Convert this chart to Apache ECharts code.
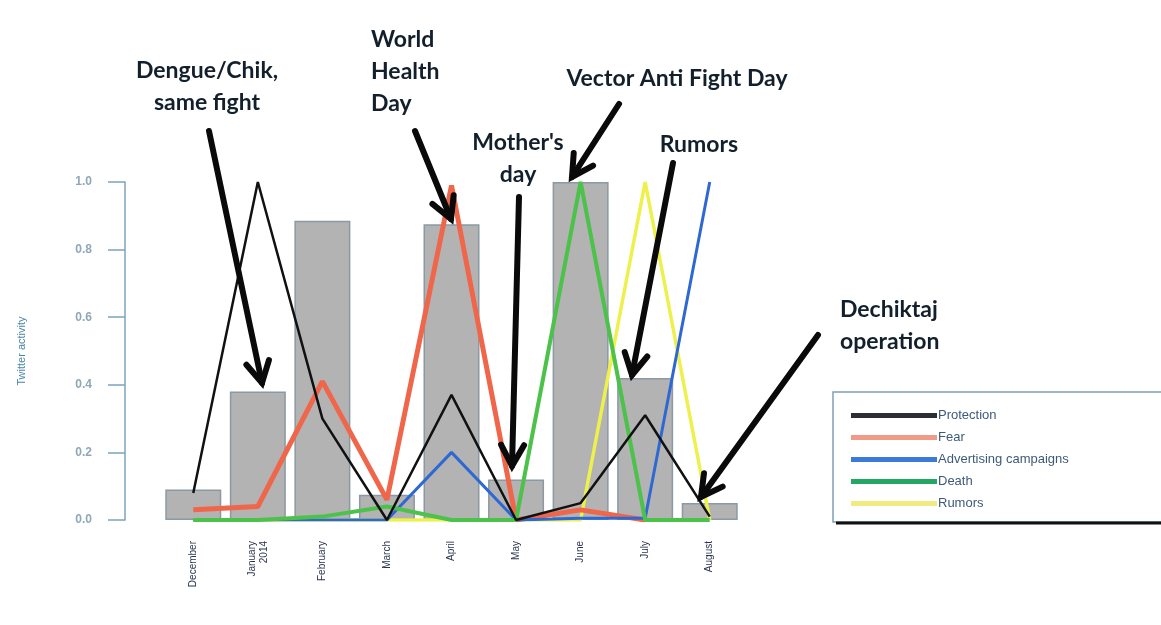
<!DOCTYPE html>
<html>
<head>
<meta charset="utf-8">
<script src="https://cdn.jsdelivr.net/npm/echarts@6/dist/echarts.min.js"></script>
<style>
html,body{margin:0;padding:0;background:#fff;}
#c{width:1161px;height:625px;}
</style>
</head>
<body>
<div id="c"></div>
<script>
const categories = ['December', 'January\n2014', 'February', 'March', 'April', 'May', 'June', 'July', 'August'];
const barValues = [0.09, 0.38, 0.885, 0.075, 0.875, 0.12, 1.0, 0.42, 0.05];
const protection = [0.08, 1.0, 0.30, 0.0, 0.37, 0.0, 0.05, 0.31, 0.01];
const fear = [0.03, 0.04, 0.41, 0.06, 0.99, 0.0, 0.03, 0.0, null];
const advertising = [0.0, 0.0, 0.0, 0.0, 0.20, 0.0, 0.005, 0.005, 1.0];
const death = [0.0, 0.0, 0.01, 0.04, 0.0, 0.0, 1.0, 0.0, 0.0];
const rumors = [0.0, 0.0, 0.0, 0.0, 0.0, 0.0, 0.0, 1.0, 0.0];
const yTicks = [0, 0.2, 0.4, 0.6, 0.8, 1.0];

const chart = echarts.init(document.getElementById('c'));

function arrow(x1, y1, x2, y2) {
  const ang = Math.atan2(y2 - y1, x2 - x1);
  const L = 24, a = 0.5;
  const p1 = [x2 - L * Math.cos(ang - a), y2 - L * Math.sin(ang - a)];
  const p2 = [x2 - L * Math.cos(ang + a), y2 - L * Math.sin(ang + a)];
  return [
    {type: 'line', z: 20, shape: {x1: x1, y1: y1, x2: x2, y2: y2}, style: {stroke: '#0a0a0a', lineWidth: 6, lineCap: 'round'}},
    {type: 'polyline', z: 20, shape: {points: [p1, [x2, y2], p2]}, style: {stroke: '#0a0a0a', lineWidth: 6, fill: null, lineJoin: 'miter', lineCap: 'round'}}
  ];
}
function label(text, x, y, align) {
  return {type: 'text', z: 20, x: x, y: y, style: {text: text, fill: '#13202c', font: 'bold 23px Lato', align: align || 'center', verticalAlign: 'middle', lineHeight: 32}};
}

const graphics = [].concat(
  [
    {type: 'rect', z: 1, shape: {x: 833, y: 392, width: 340, height: 130}, style: {fill: '#fff', stroke: '#7f9fb4', lineWidth: 1.5}},
    {type: 'line', z: 2, shape: {x1: 836, y1: 523, x2: 1161, y2: 523}, style: {stroke: '#111', lineWidth: 3}}
  ],
  arrow(209, 131, 262, 383),
  arrow(415, 131, 451, 219),
  arrow(519, 197, 512, 466),
  arrow(619, 104, 572, 177),
  arrow(673, 163, 632, 375),
  arrow(818, 335, 701, 497),
  [
    label('Dengue/Chik,\nsame fight', 207, 87),
    label('World\nHealth\nDay', 371, 72, 'left'),
    label("Mother's\nday", 518, 159),
    label('Vector Anti Fight Day', 677, 79),
    label('Rumors', 699, 145),
    label('Dechiktaj\noperation', 840, 326, 'left')
  ]
);

const lineSeries = [
  {name: 'Protection', data: protection, color: '#111111', width: 2.5, z: 7},
  {name: 'Fear', data: fear, color: '#f0664a', width: 5, z: 4},
  {name: 'Advertising campaigns', data: advertising, color: '#2e68d2', width: 3, z: 5},
  {name: 'Death', data: death, color: '#4cc24a', width: 4, z: 6},
  {name: 'Rumors', data: rumors, color: '#eef04c', width: 3.5, z: 3}
].map(s => ({
  name: s.name, type: 'line', data: s.data, symbol: 'none', z: s.z,
  color: s.color,
  lineStyle: {color: s.color, width: s.width},
  itemStyle: {color: s.color}
}));

chart.setOption({
  animation: false,
  backgroundColor: '#ffffff',
  grid: {left: 161, right: 419, top: 182, bottom: 105},
  xAxis: {
    type: 'category',
    data: categories,
    boundaryGap: true,
    axisLine: {show: false},
    axisTick: {show: false},
    axisLabel: {rotate: 90, margin: 21, color: '#2a3550', fontSize: 10, fontFamily: 'Liberation Sans', lineHeight: 12}
  },
  yAxis: {
    type: 'value',
    min: 0, max: 1, interval: 0.2,
    offset: 36,
    name: 'Twitter activity',
    nameLocation: 'middle',
    nameGap: 98,
    nameRotate: 90,
    nameTextStyle: {color: '#4a86a8', fontSize: 11, fontFamily: 'Liberation Sans'},
    axisLine: {show: true, lineStyle: {color: '#7ea4bc', width: 1.5}},
    axisTick: {show: true, inside: false, length: 17, lineStyle: {color: '#7ea4bc', width: 1.5}},
    axisLabel: {margin: 33, color: '#8ea8b8', fontSize: 12, fontWeight: 'bold', fontFamily: 'Liberation Sans',
      formatter: v => v.toFixed(1)},
    splitLine: {show: false}
  },
  legend: {
    orient: 'vertical',
    left: 846, top: 404,
    z: 10,
    icon: 'rect',
    itemWidth: 86, itemHeight: 5, itemGap: 9,
    textStyle: {color: '#3d5a7a', fontSize: 13, fontFamily: 'Liberation Sans', padding: [0, 0, 8, -4]},
    data: [
      {name: 'Protection', itemStyle: {color: '#2b2f33'}},
      {name: 'Fear', itemStyle: {color: '#f09a88'}},
      {name: 'Advertising campaigns', itemStyle: {color: '#3a7ad8'}},
      {name: 'Death', itemStyle: {color: '#22a864'}},
      {name: 'Rumors', itemStyle: {color: '#f0ea80'}}
    ]
  },
  graphic: graphics,
  series: [
    {
      name: 'Activity', type: 'bar', data: barValues, barWidth: 56, z: 1,
      itemStyle: {color: '#b3b3b3', borderColor: '#8b99a4', borderWidth: 1.5}
    }
  ].concat(lineSeries)
});
</script>
</body>
</html>
